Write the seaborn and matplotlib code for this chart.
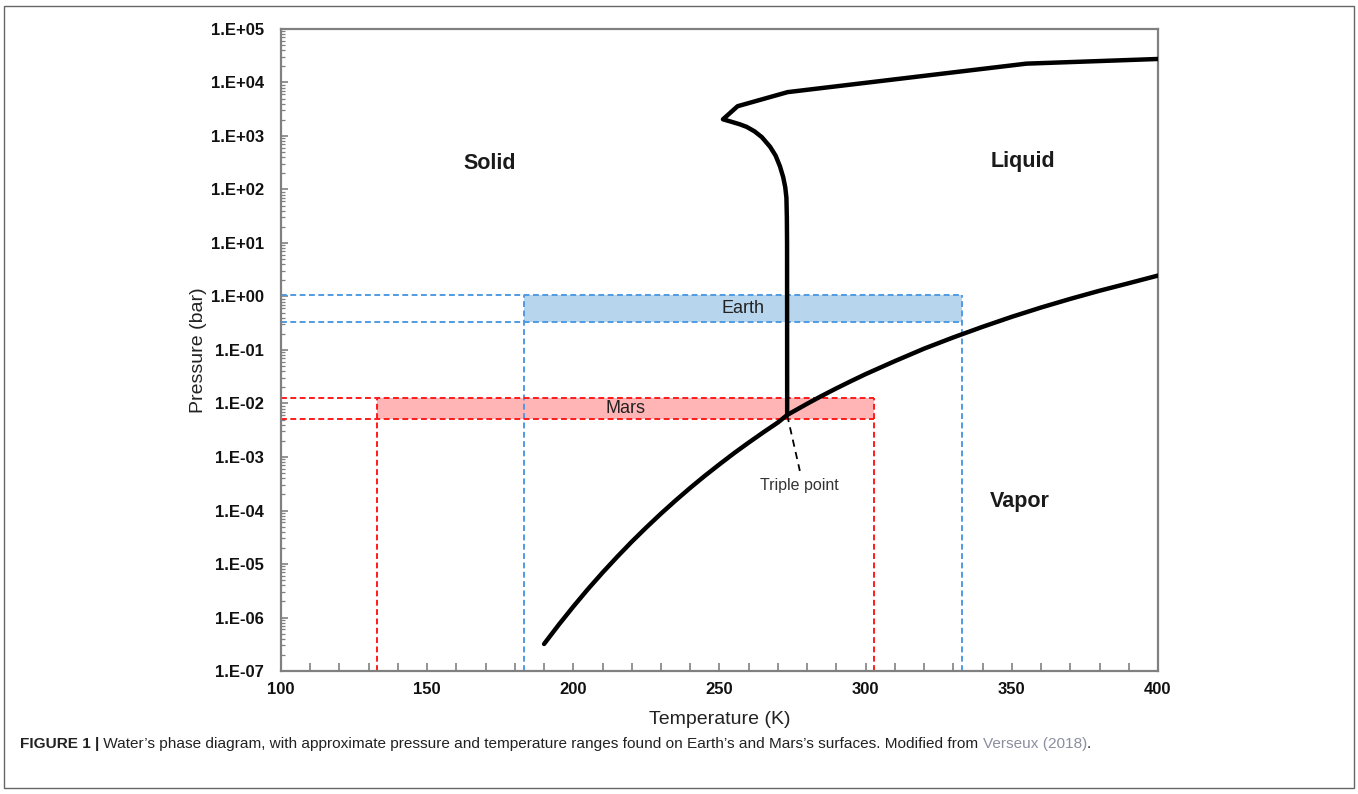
import numpy as np
import pandas as pd
import matplotlib.pyplot as plt
import matplotlib.ticker as mticker
from matplotlib.patches import Rectangle
import seaborn as sns

# sublimation + vaporization curve (K, bar)
vap_T = [190, 195, 200, 205, 210, 215, 220, 225, 230, 235, 240, 245, 250,
         255, 260, 265, 270, 273.16, 280, 285, 290, 295, 300, 310, 320,
         330, 340, 350, 360, 370, 380, 390, 400]
vap_P = [3.2e-7, 7.3e-7, 1.6e-6, 3.39e-6, 6.9e-6, 1.36e-5, 2.61e-5, 4.84e-5,
         8.75e-5, 1.54e-4, 2.65e-4, 4.45e-4, 7.3e-4, 1.18e-3, 1.86e-3,
         2.89e-3, 4.42e-3, 6.1e-3, 9.9e-3, 1.39e-2, 1.92e-2, 2.62e-2,
         3.54e-2, 6.2e-2, 0.106, 0.172, 0.271, 0.417, 0.622, 0.902, 1.28,
         1.77, 2.46]

# melting curve, from the triple point up to the high-pressure ices
melt_T = [273.16, 273.12, 273.05, 272.9, 272.5, 271.8, 270.7, 269.2, 267.3,
          264.5, 262.0, 259.3, 257.0, 254.0, 251.2, 256.2, 273.3, 355.0, 400.0]
melt_P = [6.1e-3, 10, 30, 70, 110, 170, 270, 430, 630,
          950, 1220, 1480, 1650, 1850, 2050, 3600, 6600, 22500, 27500]

# surface ranges
earth_T = [183, 333]
earth_P = [0.34, 1.08]
mars_T = [133, 303]
mars_P = [0.0051, 0.0125]

phase_labels = ["Solid", "Liquid", "Vapor"]
phase_T = [171.5, 353.8, 352.8]
phase_P = [300, 340, 1.5e-4]

sns.set_theme(style="white")
plt.rcParams['font.family'] = ['Liberation Sans', 'DejaVu Sans']

fig = plt.figure(figsize=(13.58, 7.94), dpi=100)
ax = fig.add_axes([0.2069, 0.1549, 0.6458, 0.8086])
ax.set_yscale('log')
ax.set_xlim(100, 400)
ax.set_ylim(1e-7, 1e5)

x_lo = 100
p_lo = 1e-7


def draw_range(T, P, line_col, fill_col, name):
    ax.add_patch(Rectangle((T[0], P[0]), T[1] - T[0], P[1] - P[0],
                           facecolor=fill_col, edgecolor='none', zorder=1))
    ls = (0, (3, 1.8))
    for p in P:
        ax.plot([x_lo, T[1]], [p, p], color=line_col, lw=1.4, ls=ls, zorder=2)
    for t in T:
        ax.plot([t, t], [p_lo, P[1]], color=line_col, lw=1.4, ls=ls, zorder=2)
    ax.text((T[0] + T[1]) / 2, np.sqrt(P[0] * P[1]), name, ha='center',
            va='center', fontsize=13, color='#222222', zorder=3)


draw_range(earth_T, earth_P, '#4f9be3', '#b7d5ec', 'Earth')
draw_range(mars_T, mars_P, '#ff1a1a', '#ffb5b5', 'Mars')

vap = pd.DataFrame({'T': vap_T, 'P': vap_P})
melt = pd.DataFrame({'T': melt_T, 'P': melt_P})
sns.lineplot(data=vap, x='T', y='P', color='black', lw=3.2, sort=False,
             ax=ax, zorder=4)
sns.lineplot(data=melt, x='T', y='P', color='black', lw=3.2, sort=False,
             ax=ax, zorder=4)
for line in ax.lines[-2:]:
    line.set_solid_joinstyle('round')
    line.set_solid_capstyle('round')

# triple point leader
ax.plot([273.16, 277.5], [6.1e-3, 5.5e-4], color='black', lw=1.3,
        ls=(0, (4, 3)), zorder=4)
ax.text(277.5, 2.9e-4, "Triple point", ha='center', va='center',
        fontsize=11.5, color='#333333')

for lab, t, p in zip(phase_labels, phase_T, phase_P):
    ax.text(t, p, lab, ha='center', va='center', fontsize=15.5,
            fontweight='bold', color='#1a1a1a')

# axes styling
for s in ax.spines.values():
    s.set_color('#808080')
    s.set_linewidth(1.6)
ax.xaxis.set_major_locator(mticker.MultipleLocator(50))
ax.xaxis.set_minor_locator(mticker.MultipleLocator(10))
ax.yaxis.set_major_locator(mticker.LogLocator(base=10, numticks=20))
ax.yaxis.set_minor_locator(mticker.LogLocator(base=10, subs=np.arange(2, 10), numticks=20))
ax.yaxis.set_major_formatter(mticker.FuncFormatter(
    lambda v, _: f"1.E{int(round(np.log10(v))):+03d}"))
ax.yaxis.set_minor_formatter(mticker.NullFormatter())
ax.tick_params(axis='both', which='both', direction='in', color='#808080',
               bottom=True, left=True)
ax.tick_params(axis='x', which='both', length=6, width=1.2, pad=8)
ax.tick_params(axis='y', which='major', length=5, width=1.2, pad=12)
ax.tick_params(axis='y', which='minor', length=3, width=0.9)
for lbl in ax.get_xticklabels() + ax.get_yticklabels():
    lbl.set_fontweight('bold')
    lbl.set_fontsize(12)
    lbl.set_color('#111111')
ax.set_xlabel("Temperature (K)", fontsize=14, color='#222222', labelpad=10)
ax.set_ylabel("Pressure (bar)", fontsize=14, color='#222222', labelpad=3)

# caption
cap_fs = 11.05
t1 = fig.text(0.0147, 0.063, "FIGURE 1 |", fontweight='bold', fontsize=cap_fs,
              va='center', color='#222222')
t2 = ax.annotate(" Water\u2019s phase diagram, with approximate pressure and "
                 "temperature ranges found on Earth\u2019s and Mars\u2019s "
                 "surfaces. Modified from ",
                 xy=(1, 0), xycoords=t1, va='bottom', fontsize=cap_fs,
                 color='#222222', annotation_clip=False)
t3 = ax.annotate("Verseux (2018)", xy=(1, 0), xycoords=t2, va='bottom',
                 fontsize=cap_fs, color='#8a8fa0', annotation_clip=False)
ax.annotate(".", xy=(1, 0), xycoords=t3, va='bottom', fontsize=cap_fs,
            color='#222222', annotation_clip=False)

# outer frame
fig.patches.append(Rectangle((0.003, 0.008), 0.994, 0.984, transform=fig.transFigure,
                             fill=False, edgecolor='#666666', lw=1.0))

fig.savefig("out.png", dpi=100)
